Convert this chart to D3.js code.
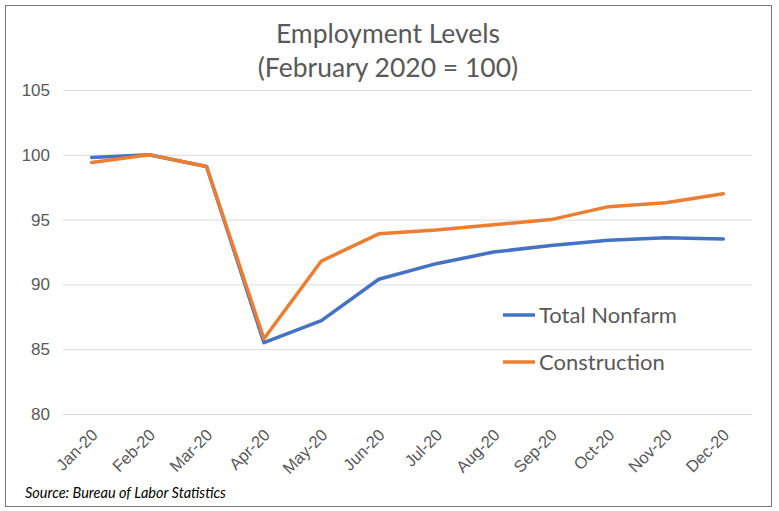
<!DOCTYPE html>
<html>
<head>
<meta charset="utf-8">
<script src="https://cdn.jsdelivr.net/npm/d3@7"></script>
<style>
  body { margin: 0; background: #fff; }
  svg { display: block; font-family: Lato, "Open Sans", sans-serif; }
</style>
</head>
<body>
<svg></svg>
<script>
var months = ["Jan-20", "Feb-20", "Mar-20", "Apr-20", "May-20", "Jun-20",
              "Jul-20", "Aug-20", "Sep-20", "Oct-20", "Nov-20", "Dec-20"]
var totalNonfarm = [99.8, 100, 99.1, 85.5, 87.2, 90.4, 91.6, 92.5, 93.0, 93.4, 93.6, 93.5]
var construction = [99.4, 100, 99.1, 85.8, 91.8, 93.9, 94.2, 94.6, 95.0, 96.0, 96.3, 97.0]
var yTicks = [80, 85, 90, 95, 100, 105]

var width = 779
var height = 511
var plotLeft = 63, plotRight = 752, plotTop = 90, plotBottom = 414
var textColor = "#595959"

var svg = d3.select("svg")
    .attr("width", width)
    .attr("height", height)

/* frame */
svg.append("rect")
    .attr("x", 5.5).attr("y", 5.5)
    .attr("width", 766).attr("height", 501)
    .attr("fill", "#fff")
    .attr("stroke", "#767676")
    .attr("stroke-width", 1)

/* scales */
var xScale = d3.scaleBand()
    .domain(months)
    .range([plotLeft, plotRight])

var yScale = d3.scaleLinear()
    .domain([80, 105])
    .range([plotBottom, plotTop])

/* y axis + gridlines */
var yAxis = d3.axisLeft(yScale)
    .tickValues(yTicks)
    .tickSize(-(plotRight - plotLeft))
    .tickPadding(13)

svg.append("g")
    .attr("transform", "translate(" + plotLeft + ",0)")
    .call(yAxis)
    .call(g => g.select(".domain").remove())
    .call(g => g.selectAll("line").attr("stroke", "#d9d9d9"))
    .call(g => g.selectAll("text")
        .attr("fill", textColor)
        .style("font-size", "17px"))

/* x axis */
var xAxis = d3.axisBottom(xScale).tickSize(0).tickPadding(0)

svg.append("g")
    .attr("transform", "translate(0," + plotBottom + ")")
    .call(xAxis)
    .call(g => g.select(".domain").remove())
    .call(g => g.selectAll("text")
        .attr("fill", textColor)
        .style("font-size", "16.5px")
        .attr("text-anchor", "end")
        .attr("dy", "0")
        .attr("transform", "translate(7,22) rotate(-45)"))

/* lines */
var line = d3.line()
    .x((d, i) => xScale(months[i]) + xScale.bandwidth() / 2)
    .y(d => yScale(d))

svg.append("path")
    .datum(totalNonfarm)
    .attr("fill", "none")
    .attr("stroke", "#4472c4")
    .attr("stroke-width", 3.5)
    .attr("stroke-linejoin", "round")
    .attr("stroke-linecap", "round")
    .attr("d", line)

svg.append("path")
    .datum(construction)
    .attr("fill", "none")
    .attr("stroke", "#ed7d31")
    .attr("stroke-width", 3.5)
    .attr("stroke-linejoin", "round")
    .attr("stroke-linecap", "round")
    .attr("d", line)

/* title */
var title = svg.append("text")
    .attr("text-anchor", "middle")
    .attr("fill", textColor)
    .style("font-size", "26.5px")
title.append("tspan").attr("x", 388).attr("y", 43).text("Employment Levels")
title.append("tspan").attr("x", 388).attr("y", 77).text("(February 2020 = 100)")

/* legend */
var legend = [["Total Nonfarm", "#4472c4", 315], ["Construction", "#ed7d31", 362]]
legend.forEach(function (d) {
    svg.append("line")
        .attr("x1", 503).attr("x2", 535)
        .attr("y1", d[2]).attr("y2", d[2])
        .attr("stroke", d[1])
        .attr("stroke-width", 3.5)
    svg.append("text")
        .attr("x", 539).attr("y", d[2] + 8)
        .attr("fill", textColor)
        .style("font-size", "22px")
        .text(d[0])
})

/* source */
svg.append("text")
    .attr("x", 25).attr("y", 498)
    .attr("fill", "#000")
    .style("font-size", "14.5px")
    .style("font-style", "italic")
    .text("Source: Bureau of Labor Statistics")
</script>
</body>
</html>
